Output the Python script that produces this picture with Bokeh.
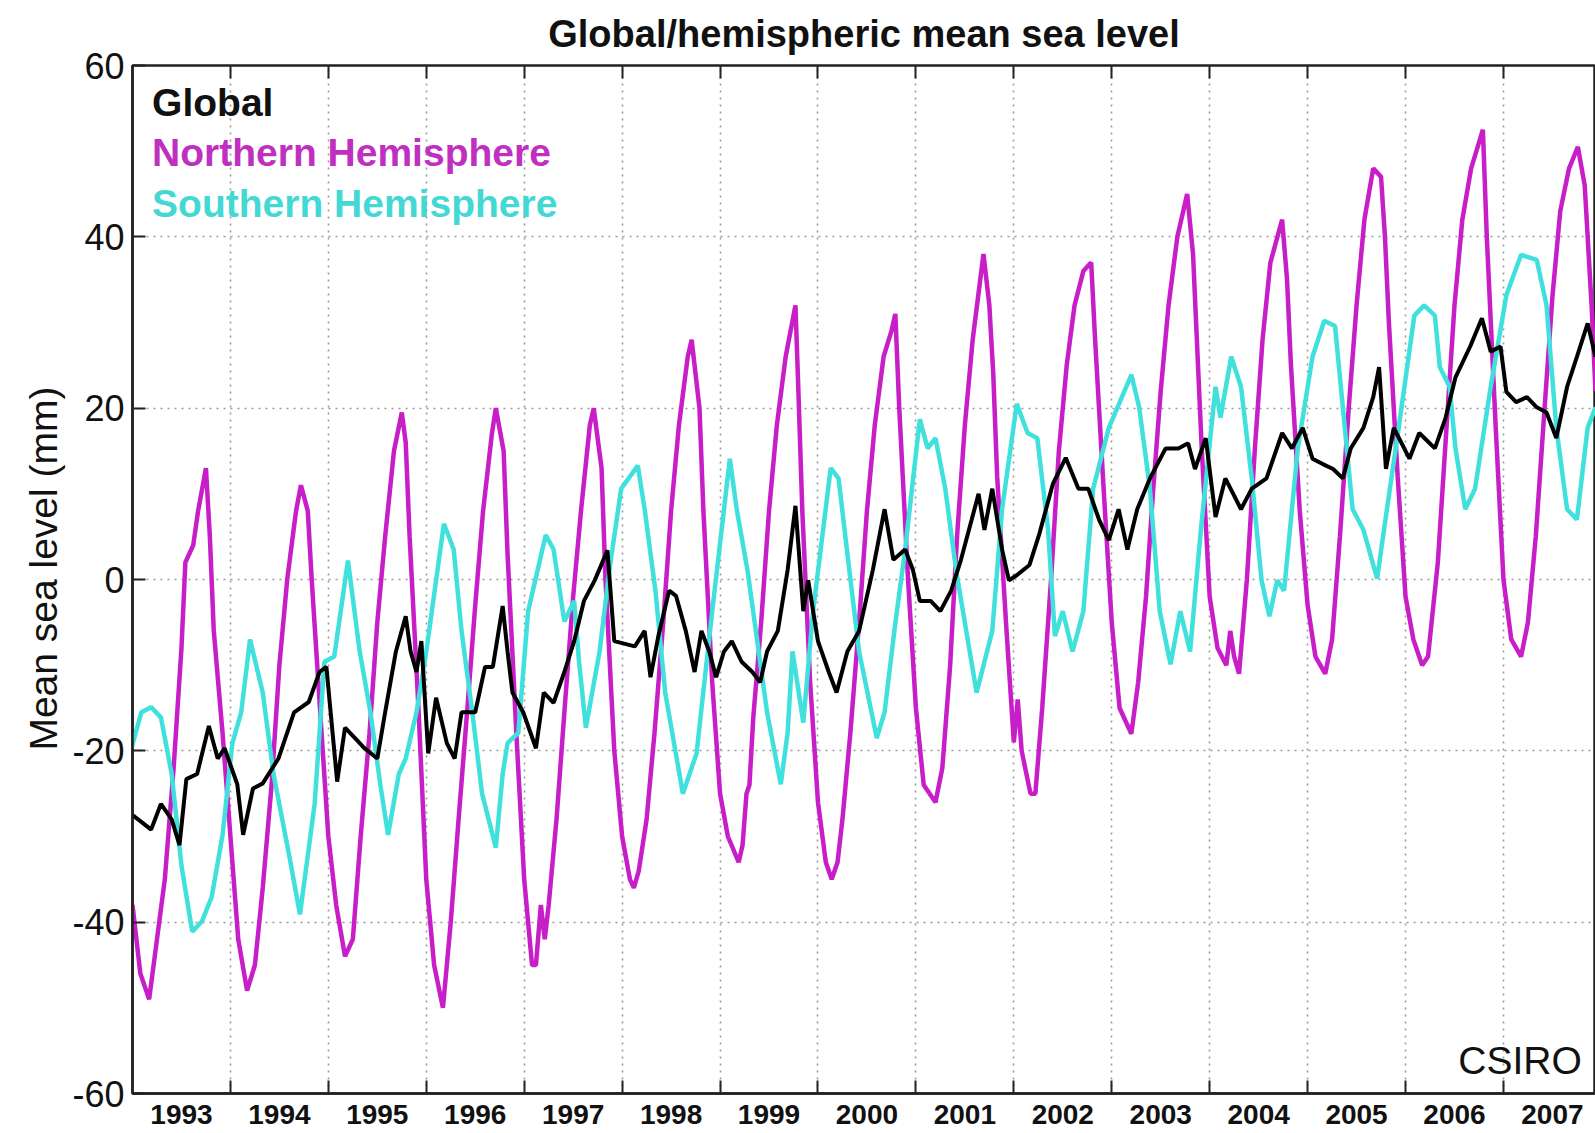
from bokeh.plotting import figure
from bokeh.models import FixedTicker, Label, Title, Range1d, LinearAxis
from bokeh.embed import file_html
from bokeh.resources import INLINE

# ---------------- data ----------------
year_labels = ["1993", "1994", "1995", "1996", "1997", "1998", "1999", "2000",
               "2001", "2002", "2003", "2004", "2005", "2006", "2007"]
y_ticks = [-60, -40, -20, 0, 20, 40, 60]

nh_year = [1993.00, 1993.08, 1993.17, 1993.25, 1993.33, 1993.42, 1993.50, 1993.54, 1993.62, 1993.67,
           1993.75, 1993.79, 1993.83, 1993.92,
           1994.00, 1994.08, 1994.17, 1994.25, 1994.33, 1994.42, 1994.50, 1994.58, 1994.67, 1994.72,
           1994.79, 1994.83, 1994.92,
           1995.00, 1995.08, 1995.17, 1995.25, 1995.33, 1995.42, 1995.50, 1995.58, 1995.67, 1995.75,
           1995.79, 1995.83, 1995.92,
           1996.00, 1996.08, 1996.17, 1996.25, 1996.33, 1996.42, 1996.50, 1996.58, 1996.67, 1996.71,
           1996.79, 1996.83, 1996.92,
           1997.00, 1997.08, 1997.12, 1997.17, 1997.21, 1997.25, 1997.33, 1997.42, 1997.50, 1997.58,
           1997.67, 1997.71, 1997.79, 1997.83, 1997.92,
           1998.00, 1998.08, 1998.12, 1998.17, 1998.25, 1998.33, 1998.42, 1998.50, 1998.58, 1998.67,
           1998.71, 1998.79, 1998.83, 1998.92,
           1999.00, 1999.08, 1999.19, 1999.23, 1999.27, 1999.30, 1999.34, 1999.42, 1999.50, 1999.58,
           1999.67, 1999.77, 1999.80, 1999.84, 1999.92,
           2000.00, 2000.08, 2000.14, 2000.20, 2000.25, 2000.33, 2000.42, 2000.50, 2000.58, 2000.67,
           2000.75, 2000.79, 2000.83, 2000.92,
           2001.00, 2001.08, 2001.20, 2001.27, 2001.35, 2001.42, 2001.50, 2001.58, 2001.69, 2001.75,
           2001.79, 2001.83, 2001.92,
           2002.00, 2002.04, 2002.08, 2002.17, 2002.22, 2002.29, 2002.38, 2002.46, 2002.54, 2002.62,
           2002.71, 2002.79, 2002.83, 2002.92,
           2003.00, 2003.08, 2003.20, 2003.27, 2003.35, 2003.42, 2003.50, 2003.58, 2003.67, 2003.77,
           2003.83, 2003.92,
           2004.00, 2004.08, 2004.17, 2004.21, 2004.25, 2004.30, 2004.38, 2004.46, 2004.54, 2004.62,
           2004.74, 2004.79, 2004.83, 2004.92,
           2005.00, 2005.08, 2005.18, 2005.25, 2005.33, 2005.42, 2005.50, 2005.58, 2005.67, 2005.75,
           2005.79, 2005.83, 2005.92,
           2006.00, 2006.08, 2006.17, 2006.23, 2006.33, 2006.42, 2006.50, 2006.58, 2006.67, 2006.75,
           2006.79, 2006.83, 2006.92,
           2007.00, 2007.08, 2007.18, 2007.25, 2007.33, 2007.42, 2007.50, 2007.58, 2007.67, 2007.76,
           2007.83, 2007.90, 2007.94]
nh_mm = [-38, -46, -49, -42, -35, -22, -8, 2, 4, 8,
         13, 5, -6, -18,
         -30, -42, -48, -45, -36, -24, -10, 0, 8, 11,
         8, 0, -16,
         -30, -38, -44, -42, -30, -18, -5, 5, 15, 19.5,
         16, 5, -15,
         -35, -45, -50, -40, -28, -15, -3, 8, 17, 20,
         15, 3, -18,
         -35, -45, -45, -38, -42, -38, -28, -14, -2, 8,
         18, 20, 13, 0, -20,
         -30, -35, -36, -34, -28, -18, -5, 8, 18, 26,
         28, 20, 8, -12,
         -25, -30, -33, -31, -25, -24, -16, -5, 8, 18,
         26, 32, 22, 8, -12,
         -26, -33, -35, -33, -28, -18, -5, 8, 18, 26,
         29, 31, 20, 0,
         -15, -24, -26, -22, -10, 5, 18, 28, 38, 32,
         24, 12, -5,
         -19, -14, -20, -25, -25, -15, 0, 15, 25, 32,
         36, 37, 28, 10,
         -5, -15, -18, -12, -2, 10, 22, 32, 40, 45,
         38, 15,
         -2, -8, -10, -6, -9, -11, 0, 15, 28, 37,
         42, 35, 25, 8,
         -3, -9, -11, -7, 5, 20, 32, 42, 48, 47,
         40, 30, 12,
         -2, -7, -10, -9, 2, 18, 32, 42, 48, 51,
         52.5, 40, 18,
         0, -7, -9, -5, 5, 20, 33, 43, 48, 50.5,
         46, 32, 22]

sh_year = [1992.99, 1993.09, 1993.19, 1993.29, 1993.40, 1993.50, 1993.61, 1993.71, 1993.81, 1993.92,
           1994.02, 1994.11, 1994.20, 1994.33, 1994.44, 1994.60, 1994.71, 1994.86, 1994.96,
           1995.06, 1995.20, 1995.32, 1995.43, 1995.53, 1995.61, 1995.72, 1995.79, 1995.90,
           1996.00, 1996.18, 1996.28, 1996.36, 1996.47, 1996.57, 1996.71, 1996.78, 1996.83, 1996.94,
           1997.04, 1997.22, 1997.30, 1997.41, 1997.51, 1997.56, 1997.63, 1997.77, 1997.87, 1997.99,
           1998.16, 1998.23, 1998.34, 1998.44, 1998.62, 1998.76, 1998.92,
           1999.10, 1999.17, 1999.28, 1999.38, 1999.48, 1999.62, 1999.69, 1999.74, 1999.85, 1999.95,
           2000.13, 2000.21, 2000.32, 2000.42, 2000.60, 2000.68, 2000.78, 2000.89,
           2001.04, 2001.12, 2001.20, 2001.30, 2001.41, 2001.62, 2001.78, 2001.88,
           2002.03, 2002.14, 2002.24, 2002.35, 2002.42, 2002.50, 2002.60, 2002.71, 2002.81, 2002.97,
           2003.20, 2003.28, 2003.39, 2003.49, 2003.60, 2003.70, 2003.80, 2003.91,
           2004.06, 2004.11, 2004.22, 2004.32, 2004.43, 2004.53, 2004.61, 2004.69, 2004.76, 2004.90,
           2005.05, 2005.17, 2005.28, 2005.36, 2005.46, 2005.57, 2005.71, 2005.78, 2005.93,
           2006.09, 2006.19, 2006.30, 2006.35, 2006.45, 2006.51, 2006.61, 2006.71, 2006.87,
           2007.03, 2007.18, 2007.34, 2007.44, 2007.54, 2007.65, 2007.75, 2007.86, 2007.94]
sh_mm = [-19.7, -15.5, -14.9, -16.1, -22.7, -33.4, -41.1, -39.9, -37, -29.8,
         -19.1, -15.5, -7, -13.2, -22.7, -32.2, -39.1, -26.2, -9.6,
         -9, 2.2, -8.4, -15.5, -23.9, -29.8, -22.7, -20.9, -15.5,
         -8.4, 6.5, 3.5, -6, -15.5, -25, -31.3, -22.7, -19.1, -17.9,
         -3.7, 5.2, 3.5, -4.9, -2.5, -9.6, -17.3, -8.4, 1.1, 10.6,
         13.3, 8.2, -1.3, -13.2, -25, -20.3, -3.7,
         14.1, 8.2, 1.1, -7.2, -15.5, -23.9, -17.9, -8.4, -16.7, -3.7,
         13, 11.8, 1.1, -8.4, -18.5, -15.5, -6, 3.5,
         18.7, 15.3, 16.5, 10.6, 1.1, -13.2, -6, 8.2,
         20.5, 17.1, 16.5, 5.8, -6.6, -3.7, -8.4, -3.7, 10.6, 17.7,
         23.9, 20.1, 10.6, -3.7, -9.9, -3.7, -8.4, 5.8,
         22.5, 18.9, 26, 22.5, 11.8, -0.1, -4.3, -0.1, -1.3, 15.3,
         26, 30.2, 29.6, 20.1, 8.2, 5.8, 0.1, 5.8, 17.7,
         30.8, 32, 30.8, 24.8, 22.5, 15.3, 8.2, 10.6, 22.5,
         33.2, 37.9, 37.3, 32, 17.7, 8.2, 7, 17.7, 20.1]

gl_year = [1992.99, 1993.09, 1993.19, 1993.29, 1993.40, 1993.48, 1993.55, 1993.66, 1993.78, 1993.87,
           1993.94, 1994.07, 1994.13, 1994.23, 1994.33, 1994.49, 1994.65, 1994.80, 1994.91, 1994.98,
           1995.09, 1995.17, 1995.27, 1995.37, 1995.50, 1995.58, 1995.69, 1995.79, 1995.84, 1995.90,
           1995.95, 1996.02, 1996.10, 1996.21, 1996.29, 1996.36, 1996.50, 1996.60, 1996.68, 1996.78,
           1996.83, 1996.88, 1996.99, 1997.12, 1997.20, 1997.30, 1997.41, 1997.51, 1997.61, 1997.72,
           1997.85, 1997.92, 1998.13, 1998.23, 1998.29, 1998.37, 1998.48, 1998.55, 1998.65, 1998.74,
           1998.81, 1998.89, 1998.96, 1999.04, 1999.12, 1999.22, 1999.33, 1999.41, 1999.48, 1999.59,
           1999.69, 1999.77, 1999.85, 1999.90, 2000.00, 2000.11, 2000.19, 2000.30, 2000.42, 2000.56,
           2000.68, 2000.77, 2000.89, 2000.97, 2001.04, 2001.15, 2001.25, 2001.36, 2001.46, 2001.57,
           2001.64, 2001.70, 2001.78, 2001.88, 2001.95, 2002.03, 2002.16, 2002.26, 2002.40, 2002.53,
           2002.66, 2002.76, 2002.87, 2002.97, 2003.07, 2003.16, 2003.26, 2003.39, 2003.55, 2003.68,
           2003.78, 2003.85, 2003.96, 2004.06, 2004.16, 2004.32, 2004.43, 2004.58, 2004.74, 2004.84,
           2004.95, 2005.05, 2005.15, 2005.26, 2005.36, 2005.44, 2005.57, 2005.67, 2005.73, 2005.80,
           2005.88, 2006.04, 2006.14, 2006.30, 2006.41, 2006.51, 2006.66, 2006.78, 2006.87, 2006.97,
           2007.03, 2007.13, 2007.24, 2007.34, 2007.44, 2007.54, 2007.65, 2007.75, 2007.86, 2007.94]
gl_mm = [-27.4, -28.3, -29.2, -26.2, -28, -31, -23.3, -22.7, -17.1, -20.9,
         -19.7, -23.9, -29.8, -24.4, -23.8, -20.9, -15.5, -14.3, -10.8, -10.2,
         -23.6, -17.3, -18.5, -19.7, -20.9, -15.5, -8.4, -4.3, -8.4, -10.8,
         -7.2, -20.3, -13.8, -19.1, -20.9, -15.5, -15.5, -10.2, -10.2, -3.1,
         -8.4, -13.2, -15.5, -19.7, -13.2, -14.4, -10.8, -7.2, -2.5, -0.1,
         3.4, -7.2, -7.8, -6, -11.4, -6.6, -1.3, -1.9, -6, -10.8,
         -6, -8.4, -11.4, -8.4, -7.2, -9.6, -10.8, -12, -8.4, -6,
         1.1, 8.6, -3.7, -0.1, -7.2, -10.8, -13.2, -8.4, -6, 1.1,
         8.2, 2.3, 3.5, 1.1, -2.5, -2.5, -3.7, -1.3, 2.3, 7,
         10, 5.8, 10.6, 3.5, -0.1, 0.5, 1.7, 5.3, 11.2, 14.2,
         10.6, 10.6, 7, 4.6, 8.2, 3.5, 8.2, 11.8, 15.3, 15.3,
         15.9, 12.9, 16.5, 7.3, 11.8, 8.2, 10.6, 11.8, 17.1, 15.3,
         17.7, 14.1, 13.5, 12.9, 11.8, 15.3, 17.7, 21.3, 24.8, 12.9,
         17.7, 14.1, 17.1, 15.3, 18.9, 23.6, 27.2, 30.5, 26.6, 27.2,
         21.9, 20.7, 21.3, 20.1, 19.5, 16.5, 22.5, 26, 29.9, 26]

# ---------------- figure ----------------
FONT = "Liberation Sans"
MAGENTA = "#c81ec8"
CYAN = "#40e0dc"
INK = "#111111"

year_bounds = [int(y) + 1 for y in year_labels[:-1]]
year_mids = [int(y) + 0.5 for y in year_labels]

p = figure(width=1595, height=1133,
           x_range=Range1d(1993.0, 2007.94), y_range=Range1d(-60, 60),
           output_backend="svg", toolbar_location=None,
           min_border_left=132, min_border_right=0, min_border_top=65, min_border_bottom=40)

p.title.text = "Global/hemispheric mean sea level"
p.title.align = "center"
p.title.text_font = FONT
p.title.text_font_size = "38px"
p.title.text_font_style = "bold"
p.title.text_color = INK
p.title.standoff = 21

p.outline_line_color = "#222222"
p.outline_line_width = 2.5
p.outline_line_alpha = 1.0
p.background_fill_color = "white"
p.border_fill_color = "white"

# bottom axis: labels at mid-year, inward minor ticks at year boundaries
xa = p.xaxis[0]
xa.ticker = FixedTicker(ticks=year_mids, minor_ticks=year_bounds)
xa.major_label_overrides = {m: lab for m, lab in zip(year_mids, year_labels)}
xa.major_tick_in = 0
xa.major_tick_out = 0
xa.minor_tick_in = 13
xa.minor_tick_out = 0
xa.minor_tick_line_color = "#222222"
xa.minor_tick_line_width = 2
xa.axis_line_color = "#222222"
xa.axis_line_width = 2.5
xa.major_label_text_font = FONT
xa.major_label_text_font_size = "28px"
xa.major_label_text_font_style = "bold"
xa.major_label_text_color = INK
xa.major_label_standoff = 11

# top axis: only inward ticks at year boundaries
top = LinearAxis(ticker=FixedTicker(ticks=year_bounds),
                 major_label_overrides={b: "" for b in year_bounds},
                 major_label_text_font_size="0px", major_label_standoff=0,
                 major_tick_in=13, major_tick_out=0, minor_tick_in=0, minor_tick_out=0,
                 major_tick_line_color="#222222", major_tick_line_width=2,
                 axis_line_color=None)
p.add_layout(top, "above")

ya = p.yaxis[0]
ya.ticker = FixedTicker(ticks=y_ticks)
ya.major_label_overrides = {t: str(t) for t in y_ticks}
ya.major_tick_in = 13
ya.major_tick_out = 0
ya.minor_tick_in = 0
ya.minor_tick_out = 0
ya.major_tick_line_color = "#222222"
ya.major_tick_line_width = 2
ya.axis_line_color = "#222222"
ya.axis_line_width = 2.5
ya.major_label_text_font = FONT
ya.major_label_text_font_size = "36px"
ya.major_label_text_color = INK
ya.major_label_standoff = 8

p.add_layout(Title(text="Mean sea level (mm)", align="right", offset=321,
                   text_font=FONT, text_font_size="39px", text_font_style="normal",
                   text_color=INK), "left")

p.xgrid.ticker = FixedTicker(ticks=year_bounds)
p.ygrid.ticker = FixedTicker(ticks=y_ticks)
for g in (p.xgrid[0], p.ygrid[0]):
    g.grid_line_color = "#9a9a9a"
    g.grid_line_dash = "2 5"
    g.grid_line_width = 1.6

p.line(nh_year, nh_mm, line_color=MAGENTA, line_width=4.5)
p.line(sh_year, sh_mm, line_color=CYAN, line_width=4.5)
p.line(gl_year, gl_mm, line_color="black", line_width=4)

for txt, col, yy in (("Global", INK, 55.7),
                     ("Northern Hemisphere", "#c030c0", 49.8),
                     ("Southern Hemisphere", "#44d8d4", 43.9)):
    p.add_layout(Label(x=1993.2, y=yy, text=txt, text_color=col, text_font=FONT,
                       text_font_size="39px", text_font_style="bold",
                       text_baseline="middle", text_align="left"))

p.add_layout(Label(x=2007.8, y=-56.2, text="CSIRO", text_color=INK, text_font=FONT,
                   text_font_size="39px", text_baseline="middle", text_align="right"))

open("out.html", "w").write(file_html(p, INLINE))
